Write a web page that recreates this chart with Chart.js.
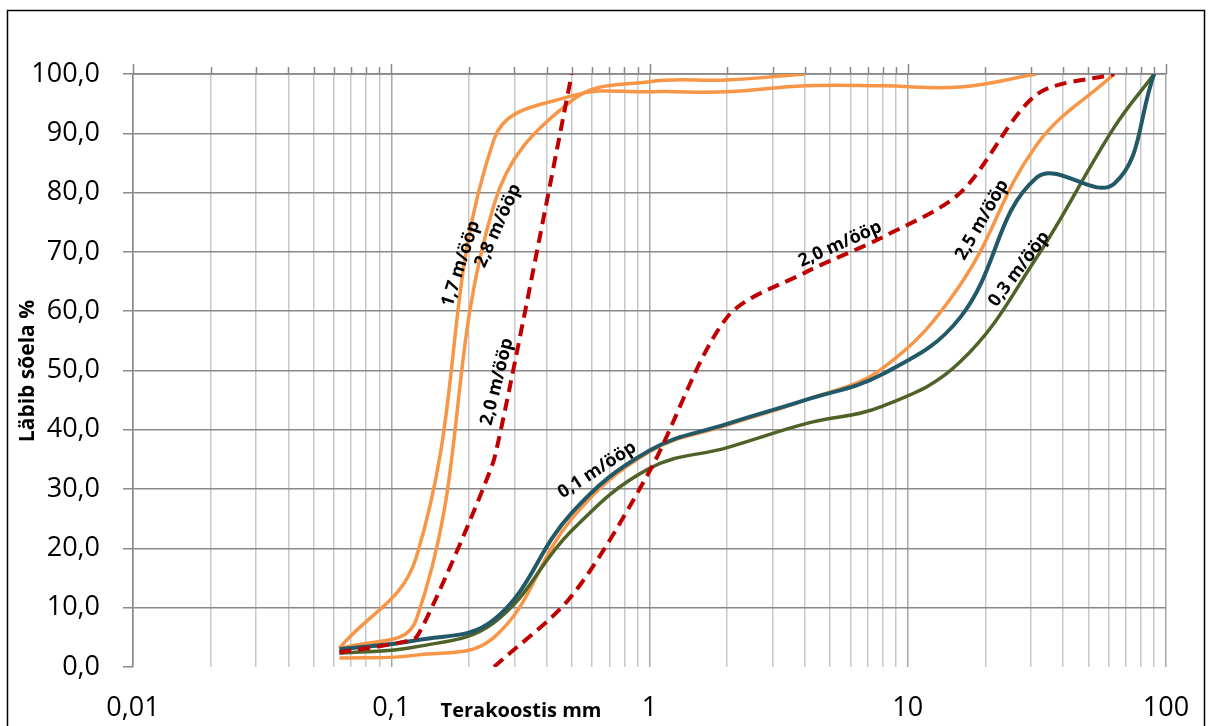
<!DOCTYPE html>
<html>
<head>
<meta charset="utf-8">
<script src="https://cdn.jsdelivr.net/npm/chart.js@4.4.1/dist/chart.umd.min.js"></script>
<style>
  body { margin: 0; background: #fff; }
  #wrap { position: relative; width: 1209px; height: 726px; }
</style>
</head>
<body>
<div id="wrap"><canvas id="sieveChart" width="1209" height="726"></canvas></div>
<script>
// sieve sizes (mm) and passing % per sample depth
const sieves = [0.063, 0.125, 0.25, 0.5, 1, 2, 4, 8, 16, 31.5, 63, 90];
const pass01 = [3, 4.5, 8, 26, 36.5, 41, 45, 49.4, 59, 82.5, 81.5, 100];
const pass03 = [2.3, 3.4, 7.5, 23, 33.5, 37, 41, 44, 51.5, 69, 91, 100];
const pass17 = [3.2, 18.5, 89, 96.3, 97, 97, 98, 98, 97.8, 100, null, null];
const pass20a = [2.5, 5, 35, 100, null, null, null, null, null, null, null, null];
const pass20b = [null, null, 0, 12, 33, 59, 66.5, 72.5, 80, 96.5, 100, null];
const pass25 = [1.5, 2, 5, 25, 36.3, 40.8, 45, 50.4, 64.5, 88, 100, null];
const pass28 = [3, 8, 78, 95.5, 98.7, 99, 100, null, null, null, null, null];

const decades = [0.01, 0.1, 1, 10, 100];
const decadeLabels = ['0,01', '0,1', '1', '10', '100'];

// curve labels: text, x (mm), y (%), angle (deg)
const curveLabels = [
    ['1,7 m/ööp', 0.186, 68.0, -72],
    ['2,8 m/ööp', 0.259, 74.4, -66],
    ['2,0 m/ööp', 0.257, 48.1, -76],
    ['0,1 m/ööp', 0.627, 33.2, -33],
    ['2,0 m/ööp', 5.47, 71.3, -24],
    ['2,5 m/ööp', 19.4, 75.4, -60],
    ['0,3 m/ööp', 27.0, 67.1, -53]
];

function toPoints(vals) {
    return sieves.map((s, i) => ({ x: s, y: vals[i] })).filter(p => p.y !== null);
}

function line(vals, color, width, dashed, tension) {
    return {
        data: toPoints(vals),
        borderColor: color,
        borderWidth: width,
        borderDash: dashed ? [12, 7] : [],
        pointRadius: 0,
        tension: tension,
        fill: false
    };
}

const orange = '#F79646';
const teal = '#215968';
const olive = '#4F6228';
const red = '#C00000';

const extras = {
    id: 'extras',
    beforeDraw(chart) {
        const ctx = chart.ctx;
        ctx.save();
        ctx.strokeStyle = '#000';
        ctx.lineWidth = 1.5;
        ctx.strokeRect(7.5, 10.5, 1197, 800);
        ctx.restore();
    },
    beforeDatasetsDraw(chart) {
        const ctx = chart.ctx;
        const x = chart.scales.x;
        const top = chart.chartArea.top;
        ctx.save();
        ctx.strokeStyle = '#898989';
        ctx.lineWidth = 1.5;
        ctx.beginPath();
        ctx.moveTo(chart.chartArea.left, top);
        ctx.lineTo(chart.chartArea.right, top);
        x.ticks.forEach(t => {
            const px = Math.round(x.getPixelForValue(t.value)) + 0.5;
            ctx.moveTo(px, top);
            ctx.lineTo(px, top - (t.major ? 10 : 7));
        });
        ctx.stroke();
        ctx.restore();
    },
    afterDatasetsDraw(chart) {
        const ctx = chart.ctx;
        const xs = chart.scales.x, ys = chart.scales.y;
        ctx.save();
        ctx.fillStyle = '#000';
        ctx.textAlign = 'center';
        ctx.textBaseline = 'middle';
        ctx.font = 'bold 18px "Open Sans"';
        curveLabels.forEach(l => {
            ctx.save();
            ctx.translate(xs.getPixelForValue(l[1]), ys.getPixelForValue(l[2]));
            ctx.rotate(l[3] * Math.PI / 180);
            ctx.fillText(l[0], 0, 0);
            ctx.restore();
        });
        ctx.font = 'bold 20px "Open Sans"';
        ctx.fillText('Terakoostis mm', 521, 711);
        ctx.font = 'bold 21px "Open Sans"';
        ctx.translate(28, 371);
        ctx.rotate(-Math.PI / 2);
        ctx.fillText('Läbib sõela %', 0, 0);
        ctx.restore();
    }
};

Chart.defaults.font.family = '"Open Sans", sans-serif';
Chart.defaults.color = '#000';

const chart = new Chart(document.getElementById('sieveChart'), {
    type: 'line',
    data: {
        datasets: [
            line(pass20a, red, 4, true, 0.1),
            line(pass20b, red, 4, true, 0.3),
            line(pass01, teal, 4, false, 0.4),
            line(pass03, olive, 3.5, false, 0.4),
            line(pass25, orange, 3.5, false, 0.4),
            line(pass17, orange, 3.5, false, 0.4),
            line(pass28, orange, 3.5, false, 0.4)
        ]
    },
    options: {
        responsive: false,
        animation: false,
        devicePixelRatio: 1,
        layout: { padding: { top: 74, right: 43, left: 0, bottom: 0 } },
        plugins: { legend: { display: false }, tooltip: { enabled: false } },
        scales: {
            x: {
                type: 'logarithmic',
                min: 0.01,
                max: 100,
                afterBuildTicks(scale) {
                    const ticks = [];
                    decades.forEach((d, i) => {
                        if (i === decades.length - 1) {
                            ticks.push({ value: d, major: true });
                            return;
                        }
                        for (let m = 1; m <= 9; m++) ticks.push({ value: d * m, major: m === 1 });
                    });
                    scale.ticks = ticks;
                },
                afterFit(scale) {
                    scale.height = 59;
                    scale.paddingLeft = 0;
                    scale.paddingRight = 0;
                },
                grid: {
                    color: ctx => (ctx.tick && ctx.tick.major) ? '#a6a6a6' : '#c8c8c8',
                    lineWidth: 1.5,
                    drawTicks: false
                },
                border: { display: false },
                ticks: {
                    autoSkip: false,
                    maxRotation: 0,
                    padding: 25,
                    font: { size: 27 },
                    callback: function (value, index, ticks) {
                        const i = decades.findIndex(d => Math.abs(d - value) < d * 1e-6);
                        return i >= 0 ? decadeLabels[i] : '';
                    }
                }
            },
            y: {
                min: 0,
                max: 100,
                afterFit(scale) { scale.width = 133; },
                grid: {
                    color: ctx => ctx.tick && ctx.tick.value === 0 ? 'rgba(0,0,0,0)' : '#898989',
                    tickColor: '#898989',
                    lineWidth: 1.5,
                    tickLength: 10
                },
                border: { color: '#898989', width: 1.5 },
                ticks: {
                    stepSize: 10,
                    padding: 23,
                    font: { size: 27 },
                    callback: value => value.toFixed(1).replace('.', ',')
                }
            }
        }
    },
    plugins: [extras]
});
</script>
</body>
</html>
